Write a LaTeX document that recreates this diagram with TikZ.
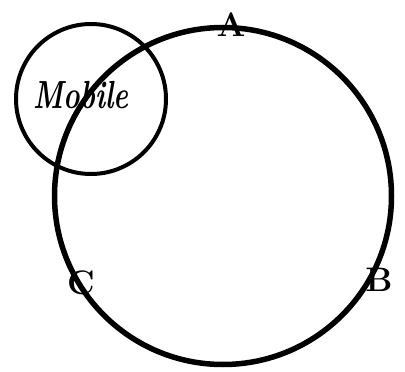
\documentclass[tikz,border=0pt]{standalone}
\usepackage{fontspec}
\begin{document}
\begin{tikzpicture}[x=1pt,y=-1pt,
  ring/.style={draw=black},
  lbl/.style={font=\fontsize{34}{34}\selectfont\bfseries, inner sep=0pt}]
\useasboundingbox (0,0) rectangle (405,372);
\node[ring, line width=5.5pt, circle, minimum size=337pt, inner sep=0pt] (big) at (223,196) {};
\node[ring, line width=4pt, circle, minimum size=150pt, inner sep=0pt] (small) at (91,99) {};
\node[font=\fontsize{28}{28}\selectfont\bfseries\itshape, inner sep=0pt] (mob) at (81,95) {\scalebox{1}[1.4]{Mobile}};
\node[lbl] (A) at (231,25) {A};
\node[lbl] (B) at (379,280) {B};
\node[lbl] (C) at (81,283) {C};
\end{tikzpicture}
\end{document}
